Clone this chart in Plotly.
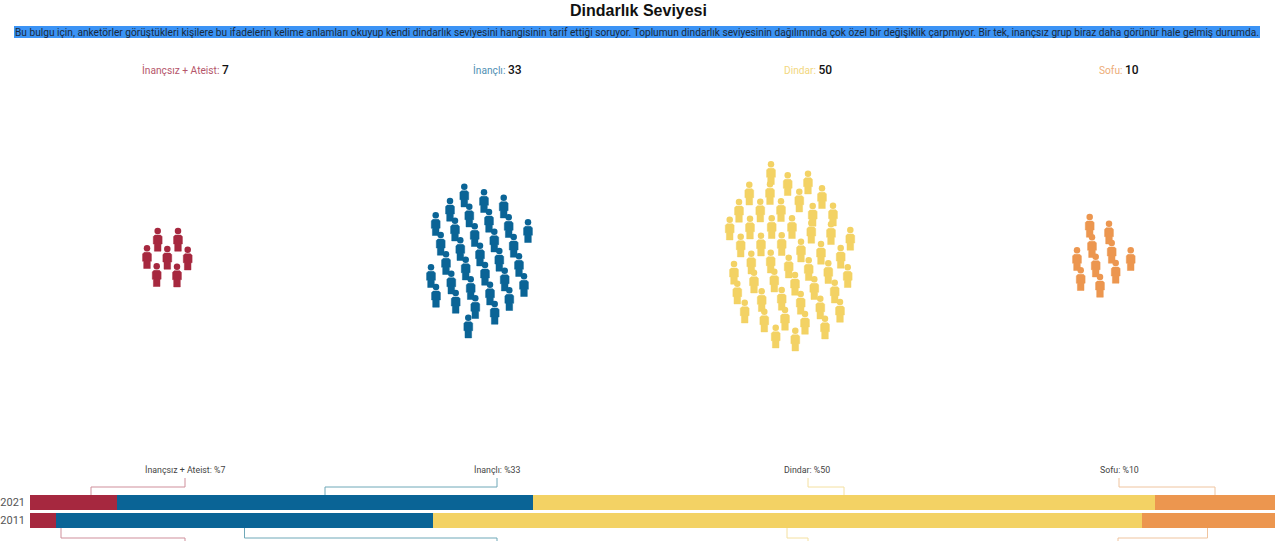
import plotly.graph_objects as go

TITLE = "Dindarlık Seviyesi"
SUBTITLE = ("Bu bulgu için, anketörler görüştükleri kişilere bu ifadelerin kelime anlamları okuyup kendi dindarlık "
            "seviyesini hangisinin tarif ettiği soruyor. Toplumun dindarlık seviyesinin dağılımında çok özel bir "
            "değişiklik çarpmıyor. Bir tek, inançsız grup biraz daha görünür hale gelmiş durumda.")

groups = ["İnançsız + Ateist", "İnançlı", "Dindar", "Sofu"]
years = ["2021", "2011"]
values_2021 = [6.95, 33.45, 50, 9.6]
values_2011 = [2.1, 30.3, 56.9, 10.7]
labels_2021 = [7, 33, 50, 10]
colors = ["#a6283f", "#0a6496", "#f3d264", "#ec964f"]
label_colors = ["#b5566a", "#4f8fb3", "#f2d77e", "#edac77"]
line_colors = ["#cf8f9b", "#6fa8b8", "#f4e0a0", "#efc49f"]

# Person head positions (pixels of the 1280x541 frame)
red_x = [157.7, 178, 147, 167.3, 187.7, 156.7, 177]
red_y = [231, 231, 248.3, 249, 249.7, 266.3, 266.7]
blue_x = [464.3, 484, 503.7, 450, 469.3, 489, 508.7, 528, 435.7, 455, 474.7, 494.3, 513.7,
          440.7, 460.3, 480, 499.3, 519, 446, 465.7, 485, 504.7, 524, 431, 451.3, 470.7,
          490, 509.3, 436, 455.7, 475.3, 494.7, 468.3]
blue_y = [186.7, 192.3, 197.7, 201, 206.7, 212, 217.3, 222.3, 215.3, 220.7, 226.3, 231.7, 237,
          235, 240.3, 245.7, 251, 256.3, 254.3, 259.7, 265, 270.7, 276.3, 267.3, 273.7, 279.3,
          284.7, 290.3, 287, 293, 298.3, 304, 317.7]
yellow_x = [771, 787.7, 808, 749.3, 770, 822, 799.3, 739, 760.3, 781, 812.7, 833, 729.7, 750,
            771.7, 792, 811.3, 831, 850.3, 740.7, 761, 781.7, 801, 821, 840.7, 751.3, 770.7,
            788.7, 808.7, 828.3, 847.7, 734, 754, 774.3, 795, 814.3, 834.7, 737.3, 761.7,
            781.7, 800.7, 820.3, 840, 744.7, 764.3, 785, 805, 825, 775.7, 795.3]
yellow_y = [164.3, 175.3, 173.7, 184.7, 184.3, 188.3, 191.7, 202, 201.7, 201.3, 206, 205.7, 219.7, 218.7,
            218.3, 218.3, 223, 224.3, 230, 236.7, 235.7, 235.3, 241.7, 244, 248, 253.7, 252.7,
            257.7, 260.3, 263.3, 267.3, 264, 272.7, 271.7, 275, 279.3, 282.7, 283.7, 291.3,
            290, 294, 298.7, 302, 302.7, 311.7, 310, 314, 318.7, 327.7, 330.7]
orange_x = [1089.7, 1109, 1092, 1111.7, 1077, 1130.7, 1095.7, 1115.7, 1080.7, 1100]
orange_y = [217, 223.7, 237.3, 243, 250.3, 250.3, 256.7, 263, 270.3, 277]

people = [(red_x, red_y), (blue_x, blue_y), (yellow_x, yellow_y), (orange_x, orange_y)]

# Elbow connectors from bars to their captions
top_line_x = [[91, 91, 185, 185], [325, 325, 497, 497], [844, 844, 808, 808], [1215, 1215, 1119, 1119]]
top_line_y = [495, 487, 487, 478]
bottom_line_x = [[61, 61, 185, 185], [244.5, 244.5, 497, 497], [787, 787, 808, 808], [1207.5, 1207.5, 1118, 1118]]
bottom_line_y = [528, 538, 538, 541]

header_x = [185, 497, 808, 1119]
caption_x = [185, 497, 807, 1119]

body_dx = [-2.8, 2.8, 4.4, 4.4, 3.3, 3.3, -3.3, -3.3, -4.4, -4.4]
body_dy = [4.0, 4.0, 5.6, 13, 13, 20.2, 20.2, 13, 13, 5.6]

fig = go.Figure()

for (xs, ys), color in zip(people, colors):
    px, py = [], []
    for x0, y0 in zip(xs, ys):
        px += [x0 + d for d in body_dx] + [x0 + body_dx[0], None]
        py += [y0 + d for d in body_dy] + [y0 + body_dy[0], None]
    fig.add_trace(go.Scatter(x=px, y=py, mode="lines", fill="toself", fillcolor=color,
                             line=dict(color=color, width=0.5), hoverinfo="skip",
                             showlegend=False, xaxis="x", yaxis="y"))
    fig.add_trace(go.Scatter(x=xs, y=ys, mode="markers",
                             marker=dict(color=color, size=6.5, line=dict(width=0)),
                             hoverinfo="skip", showlegend=False, xaxis="x", yaxis="y"))

for i, (g, color) in enumerate(zip(groups, colors)):
    fig.add_trace(go.Bar(y=years, x=[values_2021[i], values_2011[i]], name=g, orientation="h",
                         marker=dict(color=color, line=dict(width=0)), showlegend=False,
                         xaxis="x2", yaxis="y2"))

for xs, color in zip(top_line_x, line_colors):
    fig.add_trace(go.Scatter(x=xs, y=top_line_y, mode="lines", line=dict(color=color, width=1),
                             hoverinfo="skip", showlegend=False, xaxis="x", yaxis="y"))
for xs, color in zip(bottom_line_x, line_colors):
    fig.add_trace(go.Scatter(x=xs, y=bottom_line_y, mode="lines", line=dict(color=color, width=1),
                             hoverinfo="skip", showlegend=False, xaxis="x", yaxis="y"))

ann = [
    dict(x=638, y=10, text=f"<b>{TITLE}</b>", font=dict(family="Liberation Sans", size=16, color="#111111")),
    dict(x=637, y=32, text=SUBTITLE, font=dict(family="Roboto", size=10.17, color="#1a2a3a")),
]
for g, v, hx, cx, lc in zip(groups, labels_2021, header_x, caption_x, label_colors):
    ann.append(dict(x=hx, y=70,
                    text=f"<span style='color:{lc}'>{g}: </span>"
                         f"<span style='font-size:12px;color:#111111;font-weight:500'>{v}</span>",
                    font=dict(family="Roboto", size=10.2)))
    ann.append(dict(x=cx, y=470, text=f"{g}: %{v}", font=dict(family="Roboto", size=8.8, color="#444444")))

fig.update_layout(
    width=1280, height=541, margin=dict(l=0, r=0, t=0, b=0),
    paper_bgcolor="white", plot_bgcolor="rgba(0,0,0,0)",
    barmode="stack", bargap=1 / 6,
    xaxis=dict(range=[0, 1280], domain=[0, 1], visible=False, fixedrange=True),
    yaxis=dict(range=[541, 0], domain=[0, 1], visible=False, fixedrange=True),
    xaxis2=dict(range=[0, 100], domain=[30 / 1280, 1275 / 1280], visible=False, anchor="y2", fixedrange=True),
    yaxis2=dict(domain=[1 - 529.5 / 541, 1 - 493.5 / 541], anchor="x2", autorange="reversed",
                categoryorder="array", categoryarray=years, showline=False, ticks="",
                tickfont=dict(family="Roboto", size=11, color="#555555"), ticklabelstandoff=4,
                showgrid=False, zeroline=False, fixedrange=True),
    annotations=[dict(a, xref="x", yref="y", showarrow=False, xanchor="center", yanchor="middle") for a in ann],
    shapes=[dict(type="rect", xref="x", yref="y", x0=14, x1=1260, y0=26, y1=38,
                 fillcolor="#3b93f5", line=dict(width=0), layer="below")],
)

fig.write_html("out.html", config=dict(displayModeBar=False),
               post_script="document.body.style.margin='0';document.body.style.overflow='hidden';")
